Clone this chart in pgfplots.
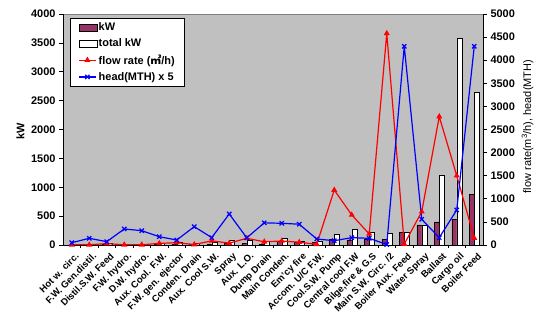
\documentclass[border=0pt]{standalone}
\usepackage{pgfplots}
\pgfplotsset{compat=1.18}
\usepackage{pgfplotstable}
\usepackage{fontspec}
\setmainfont{Liberation Sans}
\newfontfamily\cjk{Noto Sans CJK SC}
\definecolor{plum}{HTML}{993366}
\definecolor{plotgray}{HTML}{C0C0C0}

% pump list: motor kW, total kW, flow rate (m3/h), head x 5
\pgfplotstableread{
idx kw  total flow head
1   2   5     5    50
2   3   10    5    145
3   10  35    30   72
4   3   8     5    347
5   3   8     5    310
6   10  30    35   180
7   15  40    50   108
8   10  30    10   397
9   20  50    90   160
10  30  87    40   672
11  25  75    145  155
12  20  57    70   480
13  57  120   87   470
14  50  60    60   450
15  40  70    15   130
16  99  180   1190 93
17  90  265   650  159
18  104 213   240  145
19  99  205   4580 10
20  215 215   20   4300
21  350 350   720  556
22  400 1200  2780 159
23  450 3580  1500 758
24  880 2640  150  4300
}\pumps

\pgfplotsset{
  common/.style={
    scale only axis, width=420bp, height=231bp,
    xmin=0.5, xmax=24.5, enlargelimits=false,
    /pgf/number format/assume math mode=true,
    /pgf/number format/1000 sep={},
    scaled y ticks=false,
    yticklabel style={font=\fontsize{11}{12}\bfseries\selectfont},
    tick align=outside,
    major tick length=4bp,
    tick style={black, line width=0.6bp},
    axis line style={line width=0.8bp},
  },
}

\begin{document}
\begin{tikzpicture}
\begin{axis}[
  common,
  ymin=0, ymax=4000,
  ytick={0,500,...,4000},
  axis y line*=left, axis x line*=bottom,
  axis background/.style={fill=plotgray, draw=gray},
  xtick={1,...,24},
  xticklabels={Hot w. circ., F.W. Gen.distil., Distil.S.W. Feed, F.W. hydro.,
    D.W. hydro., Aux. Cool. F.W., F.W. gen. ejector, Conden. Drain,
    Aux. Cool S.W., Spray, Aux. L.O., Dump Drain, Main Conden., Em'cy fire,
    Accom. U/C F.W., Cool.S.W. Pump, Central cool F.W, {Bilge,fire \& G.S},
    Main S.W. Circ. /2, Boiler Aux. Feed, Water Spray, Ballast, Cargo oil,
    Boiler Feed},
  xticklabel style={rotate=45, anchor=north east, inner sep=1pt,
    xshift=1bp, yshift=-3bp,
    font=\fontsize{9.5}{10}\bfseries\selectfont},
  major x tick style={draw=none},
  minor xtick={1.5,2.5,...,23.5},
  minor x tick style={black},
  minor tick length=3bp,
  ylabel={kW},
  ylabel style={font=\fontsize{11}{12}\bfseries\selectfont, xshift=-2bp},
  ybar, bar width=5bp,
]
\addplot[fill=plum, draw=black, line width=0.5bp, bar shift=-2.5bp]
  table[x=idx, y=kw]{\pumps};
\addplot[fill=white, draw=black, line width=0.5bp, bar shift=2.5bp]
  table[x=idx, y=total]{\pumps};
\end{axis}

\begin{axis}[
  common,
  ymin=0, ymax=5000,
  ytick={0,500,...,5000},
  axis y line*=right, axis x line=none,
  ylabel={flow rate(m\textsuperscript{3}/h), head(MTH)},
  ylabel style={font=\fontsize{11}{12}\selectfont, xshift=3bp},
  legend cell align=left,
  legend style={at={(rel axis cs:0.0167,0.983)}, anchor=north west,
    draw=black, fill=white, line width=0.6bp,
    font=\fontsize{11}{12}\bfseries\selectfont,
    inner xsep=8bp, inner ysep=3bp, row sep=3.5bp,
    nodes={inner sep=1.5bp}},
]
\addlegendimage{legend image code/.code={\draw[fill=plum, draw=black, line width=0.6bp]
  (0bp,-3.5bp) rectangle (18bp,3.5bp);}}
\addlegendentry{kW}
\addlegendimage{legend image code/.code={\draw[fill=white, draw=black, line width=0.6bp]
  (0bp,-3.5bp) rectangle (18bp,3.5bp);}}
\addlegendentry{total kW}
\addplot[red, line width=1.2bp, mark=triangle*, mark size=2.3bp,
  mark options={solid}] table[x=idx, y=flow]{\pumps};
\addlegendentry{flow rate ({\cjk ㎥}/h)}
\addplot[blue, line width=1.2bp, mark=x, mark size=3bp,
  mark options={solid}] table[x=idx, y=head]{\pumps};
\addlegendentry{head(MTH) x 5}
\end{axis}

\pgfresetboundingbox
\path[use as bounding box] (-63bp,-83bp) rectangle (480bp,245bp);
\end{tikzpicture}
\end{document}
